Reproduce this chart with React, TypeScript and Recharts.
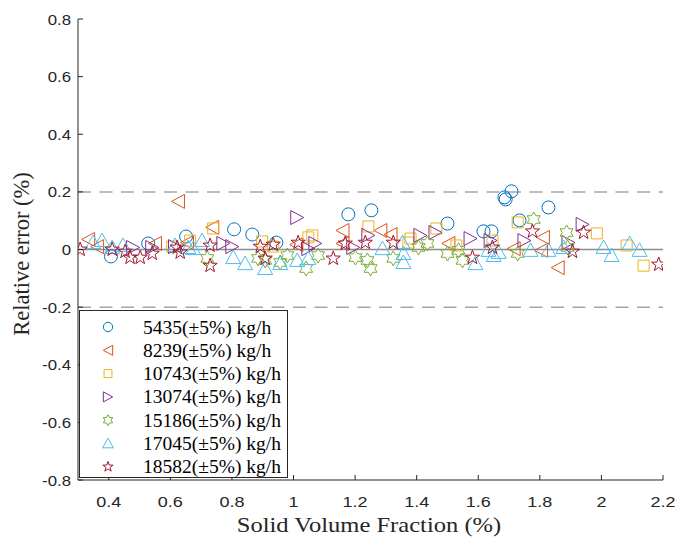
import {ReferenceLine, Scatter, ScatterChart, XAxis, YAxis} from 'recharts';

// data: [solid volume fraction %, relative error %]
const flow5435 = [
    [0.407, -0.024], [0.528, 0.021], [0.651, 0.045], [0.807, 0.07], [0.866, 0.052], [0.944, 0.024],
    [1.178, 0.122], [1.253, 0.136], [1.5, 0.09], [1.617, 0.063], [1.643, 0.063], [1.685, 0.181],
    [1.689, 0.174], [1.708, 0.202], [1.734, 0.101], [1.828, 0.146],
];
const flow8239 = [
    [0.333, 0.035], [0.362, 0.01], [0.55, 0.021], [0.625, 0.167], [0.654, 0.024], [0.736, 0.077],
    [1.009, 0.017], [1.159, 0.066], [1.159, 0.021], [1.282, 0.066], [1.315, 0.052], [1.503, 0.021],
    [1.715, 0.003], [1.81, 0.042], [1.804, -0.003], [1.858, -0.063],
];
const flow10743 = [
    [0.606, 0.01], [0.664, 0.031], [0.739, 0.073], [0.898, 0.028], [0.934, 0.01], [1.048, 0.042],
    [1.061, 0.049], [1.243, 0.08], [1.38, 0.038], [1.373, 0.024], [1.464, 0.073], [1.529, 0.014],
    [1.646, 0.031], [1.728, 0.094], [1.985, 0.056], [2.082, 0.014], [2.137, -0.056],
];
const flow13074 = [
    [0.479, 0.007], [0.541, 0.007], [0.615, 0.01], [0.772, 0.021], [0.801, 0.01], [1.012, 0.111],
    [1.048, 0.003], [1.071, 0.021], [1.194, 0.007], [1.243, 0.049], [1.412, 0.049], [1.461, 0.059],
    [1.575, 0.038], [1.64, 0.031], [1.75, 0.031], [1.939, 0.087], [1.893, 0.024],
];
const flow15186 = [
    [0.72, -0.031], [0.885, -0.031], [0.908, -0.038], [0.957, -0.045], [0.98, -0.021], [1.041, -0.066],
    [1.08, -0.021], [1.201, -0.028], [1.24, -0.038], [1.25, -0.066], [1.324, -0.031], [1.406, 0.007],
    [1.435, 0.021], [1.5, -0.014], [1.536, -0.003], [1.549, -0.038], [1.728, -0.014], [1.78, 0.104],
    [1.887, 0.059], [1.89, 0.007],
];
const flow17045 = [
    [0.349, 0.024], [0.378, 0.031], [0.411, 0.007], [0.446, 0.014], [0.615, 0.014], [0.658, 0.007],
    [0.703, 0.031], [0.674, 0.003], [0.804, -0.028], [0.843, -0.049], [0.908, -0.066], [0.957, -0.049],
    [1.012, -0.038], [1.048, -0.031], [1.289, 0.003], [1.354, 0.024], [1.357, -0.014], [1.357, -0.045],
    [1.591, -0.049], [1.633, -0.003], [1.65, -0.021], [1.666, -0.01], [1.77, -0.003], [1.828, -0.003],
    [1.877, 0.007], [2.007, 0.007], [2.033, -0.021], [2.092, 0.021], [2.124, -0.003],
];
const flow18582 = [
    [0.307, 0.0], [0.411, 0.0], [0.453, -0.007], [0.469, -0.028], [0.502, -0.028], [0.541, -0.014],
    [0.622, 0.007], [0.632, -0.01], [0.729, 0.014], [0.729, -0.056], [0.892, 0.01], [0.908, -0.031],
    [0.934, 0.017], [1.015, 0.024], [1.129, -0.031], [1.168, 0.021], [1.233, 0.024], [1.324, 0.024],
    [1.581, -0.028], [1.646, 0.007], [1.776, 0.063], [1.906, -0.007], [1.942, 0.059], [2.186, -0.052],
];

const seriesNames = [
    '5435(±5%) kg/h', '8239(±5%) kg/h', '10743(±5%) kg/h', '13074(±5%) kg/h',
    '15186(±5%) kg/h', '17045(±5%) kg/h', '18582(±5%) kg/h',
];
const seriesData = [flow5435, flow8239, flow10743, flow13074, flow15186, flow17045, flow18582];
const seriesColors = ['#0072BD', '#D95319', '#EDB120', '#7E2F8E', '#77AC30', '#4DBEEE', '#A2142F'];
const seriesMarkers = ['circle', 'left', 'square', 'right', 'hexagram', 'up', 'pentagram'];

const xTicks = [0.4, 0.6, 0.8, 1, 1.2, 1.4, 1.6, 1.8, 2, 2.2];
const yTicks = [-0.8, -0.6, -0.4, -0.2, 0, 0.2, 0.4, 0.6, 0.8];

const AXIS = '#262626';
const SERIF = '"Liberation Serif", "Times New Roman", serif';
const SANS = '"Liberation Sans", Arial, sans-serif';

function starPath(cx: number, cy: number, n: number, R: number, r: number) {
    const pts: string[] = [];
    for (let i = 0; i < n * 2; i++) {
        const rad = i % 2 === 0 ? R : r;
        const a = -Math.PI / 2 + (i * Math.PI) / n;
        pts.push(`${(cx + rad * Math.cos(a)).toFixed(2)},${(cy + rad * Math.sin(a)).toFixed(2)}`);
    }
    return 'M' + pts.join('L') + 'Z';
}

function markerPath(kind: string, cx: number, cy: number, k = 1) {
    switch (kind) {
        case 'left':
            return `M${cx - 6.5 * k},${cy}L${cx + 6.5 * k},${cy - 7 * k}L${cx + 6.5 * k},${cy + 7 * k}Z`;
        case 'right':
            return `M${cx + 6.5 * k},${cy}L${cx - 6.5 * k},${cy - 7 * k}L${cx - 6.5 * k},${cy + 7 * k}Z`;
        case 'up':
            return `M${cx},${cy - 7.5 * k}L${cx + 7.5 * k},${cy + 6 * k}L${cx - 7.5 * k},${cy + 6 * k}Z`;
        case 'square':
            return `M${cx - 5.5 * k},${cy - 5.5 * k}h${11 * k}v${11 * k}h${-11 * k}Z`;
        case 'hexagram':
            return starPath(cx, cy, 6, 7.5 * k, 4.33 * k);
        case 'pentagram':
            return starPath(cx, cy, 5, 7.5 * k, 3 * k);
        default:
            return '';
    }
}

function Marker({kind, color, cx, cy, k = 1}: { kind: string; color: string; cx: number; cy: number; k?: number }) {
    if (kind === 'circle') {
        return <circle cx={cx} cy={cy} r={6.5 * k} fill="none" stroke={color} strokeWidth={1}/>;
    }
    return <path d={markerPath(kind, cx, cy, k)} fill="none" stroke={color} strokeWidth={1}
                 strokeLinejoin="miter"/>;
}

const XTick = ({x, y, payload}: any) => (
    <g>
        <line x1={x} y1={y} x2={x} y2={y - 5} stroke={AXIS}/>
        <text transform={`translate(${x},${y + 27}) scale(1.2,1)`} textAnchor="middle" fill={AXIS}
              fontFamily={SANS} fontSize={15}>{String(payload.value)}</text>
    </g>
);

const YTick = ({x, y, payload}: any) => (
    <g>
        <line x1={x} y1={y} x2={x + 5} y2={y} stroke={AXIS}/>
        <text transform={`translate(${x - 7},${y + 5.5}) scale(1.12,1)`} textAnchor="end" fill={AXIS}
              fontFamily={SANS} fontSize={15}>{String(payload.value)}</text>
    </g>
);

export default function App() {
    const tables = seriesData.map(s => s.map(([x, y]) => ({x, y})));
    return (
        <div style={{position: 'absolute', left: 0, top: 0, width: 675, height: 540, background: '#fff'}}>
            <ScatterChart width={675} height={540} margin={{top: 19, right: 12, bottom: 0, left: 0}}>
                <XAxis type="number" dataKey="x" domain={[0.3, 2.2]} ticks={xTicks} allowDataOverflow
                       height={60} tickSize={0} tickMargin={0} tick={<XTick/>} stroke={AXIS}/>
                <YAxis type="number" dataKey="y" domain={[-0.8, 0.8]} ticks={yTicks} allowDataOverflow
                       width={78} tickSize={0} tickMargin={0} tick={<YTick/>} stroke={AXIS}/>
                <ReferenceLine y={0.2} stroke="#a6a6a6" strokeWidth={1.5} strokeDasharray="13 8.5"/>
                <ReferenceLine y={-0.2} stroke="#a6a6a6" strokeWidth={1.5} strokeDasharray="13 8.5"/>
                <ReferenceLine y={0} stroke="#8c8c8c" strokeWidth={1.5}/>
                {tables.map((t, i) => (
                    <Scatter key={seriesNames[i]} name={seriesNames[i]} data={t} isAnimationActive={false}
                             shape={(p: any) => <Marker kind={seriesMarkers[i]} color={seriesColors[i]}
                                                        cx={p.cx} cy={p.cy}/>}/>
                ))}
            </ScatterChart>
            <svg width={675} height={540} style={{position: 'absolute', left: 0, top: 0, pointerEvents: 'none'}}>
                <text transform="translate(369,532) scale(1.17,1)" textAnchor="middle" fill={AXIS}
                      fontFamily={SERIF} fontSize={21}>Solid Volume Fraction (%)</text>
                <text transform="translate(29,254) rotate(-90)" textAnchor="middle" fill={AXIS}
                      fontFamily={SERIF} fontSize={22.5}>Relative error (%)</text>
                <rect x={79.5} y={310.5} width={208} height={167} fill="#fff" stroke={AXIS}/>
                {seriesNames.map((name, i) => {
                    const cy = 327 + i * 23.3;
                    return (
                        <g key={name}>
                            <Marker kind={seriesMarkers[i]} color={seriesColors[i]} cx={108} cy={cy} k={0.72}/>
                            <text transform={`translate(143,${cy + 6.5}) scale(1.0,1)`} fill="#000"
                                  fontFamily={SERIF} fontSize={19.5}>{name}</text>
                        </g>
                    );
                })}
            </svg>
        </div>
    );
}
